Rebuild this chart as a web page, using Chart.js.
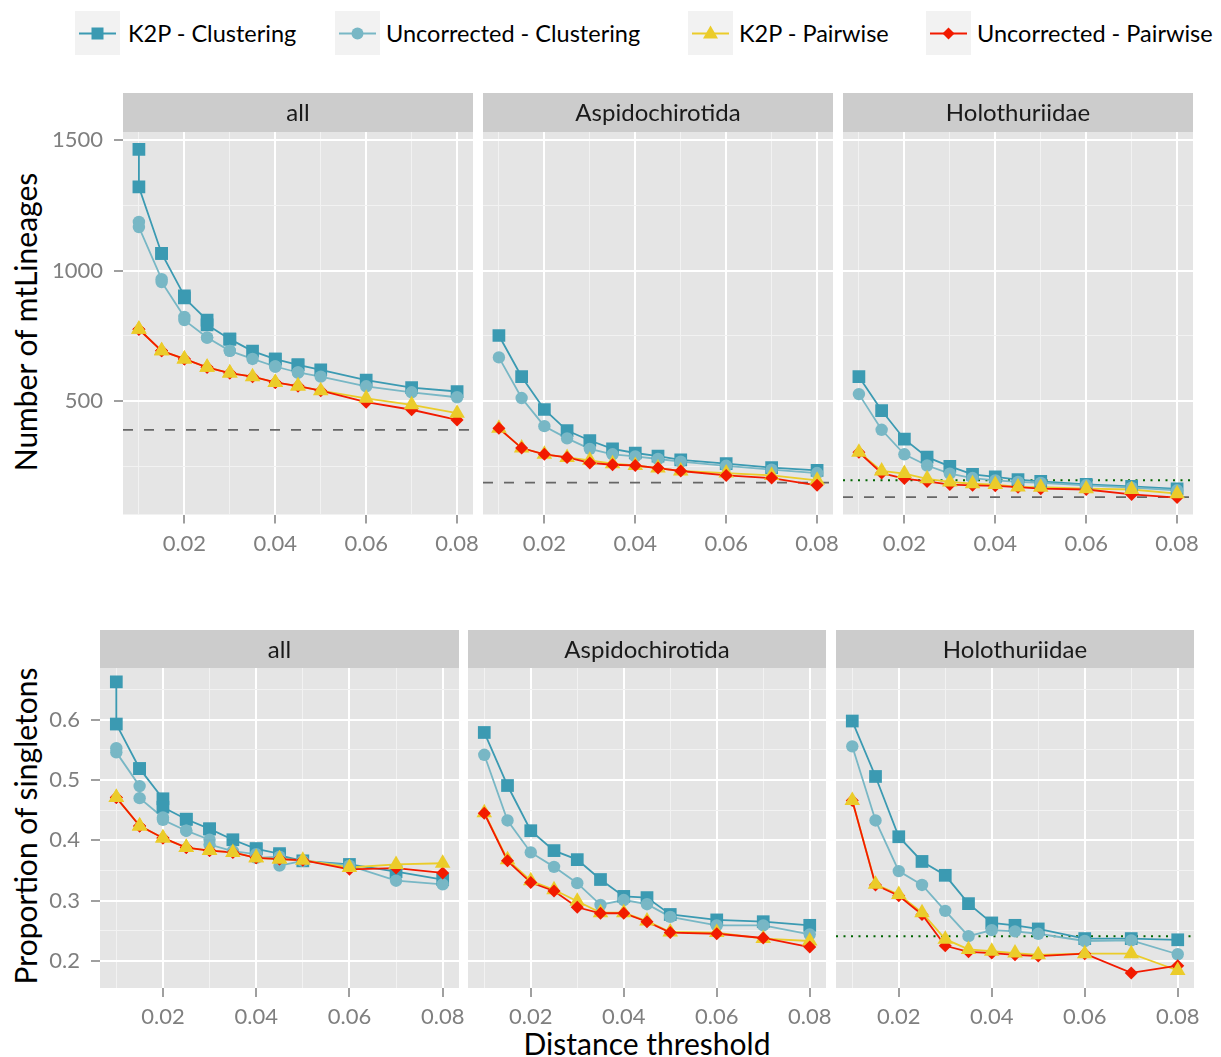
<!DOCTYPE html>
<html>
<head>
<meta charset="utf-8">
<script src="https://cdn.jsdelivr.net/npm/chart.js@4.4.0/dist/chart.umd.min.js"></script>
<style>
  body { margin: 0; background: #fff; font-family: Lato, sans-serif; }
  #page { position: relative; width: 1221px; height: 1057px; overflow: hidden; }
  canvas { position: absolute; }
  .key { position: absolute; top: 11px; width: 45px; height: 44px; background: #F2F2F2; }
  .lgtext { position: absolute; top: 33px; transform: translateY(-50%); font-size: 23.5px; color: #000; white-space: nowrap; }
  .axtitle { position: absolute; font-size: 30px; color: #000; white-space: nowrap; transform: translate(-50%, -50%); }
  .rot { transform: translate(-50%, -50%) rotate(-90deg); }
</style>
</head>
<body>
<div id="page">
  <div class="axtitle rot" style="left:25px; top:322px;">Number of mtLineages</div>
  <div class="axtitle rot" style="left:25px; top:826px;">Proportion of singletons</div>
  <div class="axtitle" style="left:647px; top:1043px;">Distance threshold</div>
</div>
<script>
// distance thresholds (x); the "all" set has doubled thresholds
const thresholds = [0.01, 0.015, 0.02, 0.025, 0.03, 0.035, 0.04, 0.045, 0.05, 0.06, 0.07, 0.08];
const thresholdsAll = [0.01, 0.01, 0.015, 0.015, 0.02, 0.02, 0.025, 0.025, 0.03, 0.03, 0.035,
                       0.04, 0.04, 0.045, 0.045, 0.05, 0.06, 0.07, 0.08];

const seriesNames = ['K2P - Clustering', 'Uncorrected - Clustering', 'K2P - Pairwise', 'Uncorrected - Pairwise'];
const seriesColors = ['#3B9AB2', '#78B7C5', '#EBCC2A', '#F21A00'];
const seriesShapes = ['rect', 'circle', 'triangle', 'rectRot'];
const seriesRadius = [9, 6.2, 9, 6.5];

// Number of mtLineages
const linAllK2PClust  = [1465, 1321, 1066, 1066, 903, 895, 810, 792, 737, 737, 691, 660, 660, 638, 638, 619, 580, 551, 536];
const linAllUncClust  = [1187, 1167, 967, 956, 822, 810, 743, 743, 692, 692, 661, 632, 632, 609, 609, 593, 556, 533, 514];
const linAllK2PPair   = [775, 775, 692, 692, 661, 661, 629, 629, 607, 607, 593, 571, 571, 557, 557, 539, 510, 485, 453];
const linAllUncPair   = [775, 775, 692, 692, 661, 661, 629, 629, 607, 607, 593, 571, 571, 557, 557, 539, 495, 466, 427];

const linAspK2PClust  = [751, 593, 467, 386, 348, 316, 300, 288, 274, 259, 244, 233];
const linAspUncClust  = [667, 511, 403, 356, 316, 295, 287, 277, 267, 251, 236, 223];
const linAspK2PPair   = [395, 319, 295, 283, 272, 259, 252, 242, 231, 223, 214, 195];
const linAspUncPair   = [395, 319, 295, 283, 262, 255, 252, 242, 231, 214, 204, 176];

const linHolK2PClust  = [593, 463, 353, 284, 249, 218, 208, 198, 191, 180, 172, 162];
const linHolUncClust  = [526, 389, 295, 252, 221, 204, 195, 189, 185, 176, 167, 157];
const linHolK2PPair   = [303, 231, 221, 201, 189, 182, 179, 170, 169, 163, 160, 144];
const linHolUncPair   = [303, 223, 202, 191, 179, 176, 174, 169, 163, 160, 141, 129];

// Proportion of singletons
const sglAllK2PClust  = [0.663, 0.593, 0.519, 0.519, 0.469, 0.455, 0.435, 0.435, 0.419, 0.419, 0.401, 0.386, 0.386, 0.378, 0.375, 0.366, 0.360, 0.348, 0.335];
const sglAllUncClust  = [0.553, 0.546, 0.490, 0.470, 0.438, 0.434, 0.416, 0.416, 0.401, 0.393, 0.382, 0.377, 0.371, 0.373, 0.358, 0.366, 0.358, 0.333, 0.327];
const sglAllK2PPair   = [0.471, 0.471, 0.424, 0.424, 0.404, 0.404, 0.388, 0.388, 0.383, 0.383, 0.380, 0.371, 0.371, 0.369, 0.369, 0.367, 0.355, 0.360, 0.362];
const sglAllUncPair   = [0.471, 0.471, 0.424, 0.424, 0.404, 0.404, 0.388, 0.388, 0.383, 0.383, 0.380, 0.371, 0.371, 0.369, 0.369, 0.367, 0.352, 0.354, 0.346];

const sglAspK2PClust  = [0.579, 0.491, 0.416, 0.383, 0.368, 0.335, 0.307, 0.305, 0.277, 0.268, 0.265, 0.259];
const sglAspUncClust  = [0.542, 0.433, 0.380, 0.356, 0.329, 0.293, 0.301, 0.294, 0.273, 0.259, 0.259, 0.244];
const sglAspK2PPair   = [0.446, 0.368, 0.333, 0.318, 0.299, 0.280, 0.280, 0.266, 0.248, 0.247, 0.237, 0.233];
const sglAspUncPair   = [0.445, 0.366, 0.330, 0.316, 0.289, 0.279, 0.279, 0.265, 0.247, 0.245, 0.238, 0.223];

const sglHolK2PClust  = [0.598, 0.506, 0.406, 0.365, 0.342, 0.295, 0.263, 0.259, 0.253, 0.237, 0.237, 0.235];
const sglHolUncClust  = [0.556, 0.433, 0.349, 0.326, 0.283, 0.241, 0.251, 0.249, 0.245, 0.233, 0.234, 0.211];
const sglHolK2PPair   = [0.466, 0.327, 0.310, 0.280, 0.236, 0.219, 0.216, 0.213, 0.210, 0.212, 0.212, 0.184];
const sglHolUncPair   = [0.466, 0.326, 0.308, 0.277, 0.225, 0.215, 0.213, 0.210, 0.208, 0.212, 0.180, 0.192];

// reference lines
const dashedLin = [389, 186, 131];
const dottedLinHol = 195;
const dottedSglHol = 0.241;

// ticks
const xTicks = [0.01, 0.02, 0.03, 0.04, 0.05, 0.06, 0.07, 0.08];
const xMajor = [0.02, 0.04, 0.06, 0.08];
const yTicksLin = [250, 500, 750, 1000, 1250, 1500];
const yMajorLin = [500, 1000, 1500];
const yTicksSgl = [0.2, 0.25, 0.3, 0.35, 0.4, 0.45, 0.5, 0.55, 0.6, 0.65];
const yMajorSgl = [0.2, 0.3, 0.4, 0.5, 0.6];

const xMin = 0.0065, xMax = 0.0835;
const FONT = 'Lato';

const page = document.getElementById('page');

// legend
const legendKeyX = [75, 335, 688, 926];
const legendTextX = [128, 386, 739, 977];
seriesNames.forEach(function (name, i) {
    const key = document.createElement('div');
    key.className = 'key';
    key.style.left = legendKeyX[i] + 'px';
    const c = seriesColors[i];
    let mark = '';
    if (i === 0) mark = `<rect x="16.5" y="16.5" width="12" height="12" fill="${c}"/>`;
    if (i === 1) mark = `<circle cx="22.5" cy="22.5" r="6" fill="${c}"/>`;
    if (i === 2) mark = `<polygon points="22.5,14.5 30,27.5 15,27.5" fill="${c}"/>`;
    if (i === 3) mark = `<polygon points="22.5,16.5 28.5,22.5 22.5,28.5 16.5,22.5" fill="${c}"/>`;
    key.innerHTML = `<svg width="45" height="44"><line x1="4" y1="22.5" x2="41" y2="22.5" stroke="${c}" stroke-width="1.8"/>${mark}</svg>`;
    page.appendChild(key);
    const t = document.createElement('div');
    t.className = 'lgtext';
    t.style.left = legendTextX[i] + 'px';
    t.textContent = name;
    page.appendChild(t);
});

const rows = {
    lin: { top: 93, stripH: 39, bottom: 565, xh: 50.5, min: 64, max: 1532,
           ticks: yTicksLin, major: yMajorLin, fmt: v => String(v) },
    sgl: { top: 630, stripH: 38, bottom: 1030, xh: 42, min: 0.155, max: 0.686,
           ticks: yTicksSgl, major: yMajorSgl, fmt: v => v.toFixed(1) }
};

const panels = [
    { row: 'lin', strip: 'all', left: 123, right: 473, labels: true, x: thresholdsAll,
      values: [linAllK2PClust, linAllUncClust, linAllK2PPair, linAllUncPair], dashed: dashedLin[0], triTop: true },
    { row: 'lin', strip: 'Aspidochirotida', left: 483, right: 833, labels: false, x: thresholds,
      values: [linAspK2PClust, linAspUncClust, linAspK2PPair, linAspUncPair], dashed: dashedLin[1], triTop: false },
    { row: 'lin', strip: 'Holothuriidae', left: 843, right: 1193, labels: false, x: thresholds,
      values: [linHolK2PClust, linHolUncClust, linHolK2PPair, linHolUncPair], dashed: dashedLin[2], dotted: dottedLinHol, triTop: true },
    { row: 'sgl', strip: 'all', left: 100, right: 459, labels: true, x: thresholdsAll,
      values: [sglAllK2PClust, sglAllUncClust, sglAllK2PPair, sglAllUncPair], triTop: true },
    { row: 'sgl', strip: 'Aspidochirotida', left: 468, right: 826, labels: false, x: thresholds,
      values: [sglAspK2PClust, sglAspUncClust, sglAspK2PPair, sglAspUncPair], triTop: false },
    { row: 'sgl', strip: 'Holothuriidae', left: 836, right: 1194, labels: false, x: thresholds,
      values: [sglHolK2PClust, sglHolUncClust, sglHolK2PPair, sglHolUncPair], dotted: dottedSglHol, triTop: true }
];

// grey panel background and facet strip
const panelPlugin = {
    id: 'panelBg',
    beforeDraw(chart, args, opts) {
        const { ctx, chartArea: a } = chart;
        ctx.save();
        ctx.fillStyle = '#E5E5E5';
        ctx.fillRect(a.left, a.top, a.right - a.left, a.bottom - a.top);
        ctx.fillStyle = '#CCCCCC';
        ctx.fillRect(a.left, a.top - opts.stripH, a.right - a.left, opts.stripH);
        ctx.fillStyle = '#1A1A1A';
        ctx.font = '24px ' + FONT;
        ctx.textAlign = 'center';
        ctx.textBaseline = 'middle';
        ctx.fillText(opts.text, (a.left + a.right) / 2, a.top - opts.stripH / 2 + 1);
        ctx.restore();
    }
};

const padRight = 30;

panels.forEach(function (p) {
    const r = rows[p.row];
    const yw = p.labels ? p.left - 40 : 10;
    const canvas = document.createElement('canvas');
    const w = p.right - p.left + yw + padRight;
    const h = r.bottom - r.top;
    canvas.width = w;
    canvas.height = h;
    canvas.style.left = (p.left - yw) + 'px';
    canvas.style.top = r.top + 'px';
    page.appendChild(canvas);

    const datasets = [];
    // order: lower = drawn on top
    const pointOrder = p.triTop ? [4, 3, 1, 2] : [4, 3, 2, 1];
    p.values.forEach(function (vals, i) {
        const pts = vals.map((v, k) => ({ x: p.x[k], y: v }));
        datasets.push({
            label: seriesNames[i] + ' line',
            data: pts,
            borderColor: seriesColors[i],
            borderWidth: 1.8,
            pointRadius: 0,
            fill: false,
            order: 20 - i
        });
        datasets.push({
            label: seriesNames[i],
            data: pts,
            showLine: false,
            pointStyle: seriesShapes[i],
            pointRadius: seriesRadius[i],
            pointBackgroundColor: seriesColors[i],
            pointBorderColor: seriesColors[i],
            pointBorderWidth: 0,
            order: pointOrder[i]
        });
    });
    if (p.dashed !== undefined) {
        datasets.push({
            data: [{ x: xMin, y: p.dashed }, { x: xMax, y: p.dashed }],
            borderColor: '#666666', borderWidth: 1.8, borderDash: [10, 11],
            pointRadius: 0, order: 30
        });
    }
    if (p.dotted !== undefined) {
        datasets.push({
            data: [{ x: xMin, y: p.dotted }, { x: xMax, y: p.dotted }],
            borderColor: '#006400', borderWidth: 2, borderDash: [2, 5.5],
            pointRadius: 0, order: 30
        });
    }

    new Chart(canvas, {
        type: 'line',
        data: { datasets: datasets },
        plugins: [panelPlugin],
        options: {
            responsive: false,
            animation: false,
            events: [],
            layout: { padding: { top: r.stripH, right: padRight, left: 0, bottom: 0 } },
            plugins: {
                legend: { display: false },
                tooltip: { enabled: false },
                panelBg: { text: p.strip, stripH: r.stripH }
            },
            scales: {
                x: {
                    type: 'linear',
                    min: xMin,
                    max: xMax,
                    afterBuildTicks: s => { s.ticks = xTicks.map(v => ({ value: v })); },
                    afterFit: s => { s.height = r.xh; },
                    border: { display: false },
                    grid: {
                        color: c => xMajor.includes(c.tick.value) ? '#FFFFFF' : '#F2F2F2',
                        lineWidth: c => xMajor.includes(c.tick.value) ? 2 : 1,
                        tickColor: c => xMajor.includes(c.tick.value) ? '#7F7F7F' : 'rgba(0,0,0,0)',
                        tickLength: 9,
                        tickWidth: 1.5
                    },
                    ticks: {
                        autoSkip: false,
                        maxRotation: 0,
                        padding: 7,
                        color: '#7F7F7F',
                        font: { family: FONT, size: 22 },
                        callback: v => xMajor.includes(v) ? v.toFixed(2) : ''
                    }
                },
                y: {
                    type: 'linear',
                    min: r.min,
                    max: r.max,
                    afterBuildTicks: s => { s.ticks = r.ticks.map(v => ({ value: v })); },
                    afterFit: s => { s.width = yw; },
                    border: { display: false },
                    grid: {
                        color: c => r.major.includes(c.tick.value) ? '#FFFFFF' : '#F2F2F2',
                        lineWidth: c => r.major.includes(c.tick.value) ? 2 : 1,
                        tickColor: c => (p.labels && r.major.includes(c.tick.value)) ? '#7F7F7F' : 'rgba(0,0,0,0)',
                        tickLength: 9,
                        tickWidth: 1.5
                    },
                    ticks: {
                        display: p.labels,
                        autoSkip: false,
                        padding: 11,
                        color: '#7F7F7F',
                        font: { family: FONT, size: 22 },
                        callback: v => r.major.includes(v) ? r.fmt(v) : ''
                    }
                }
            }
        }
    });
});
</script>
</body>
</html>
